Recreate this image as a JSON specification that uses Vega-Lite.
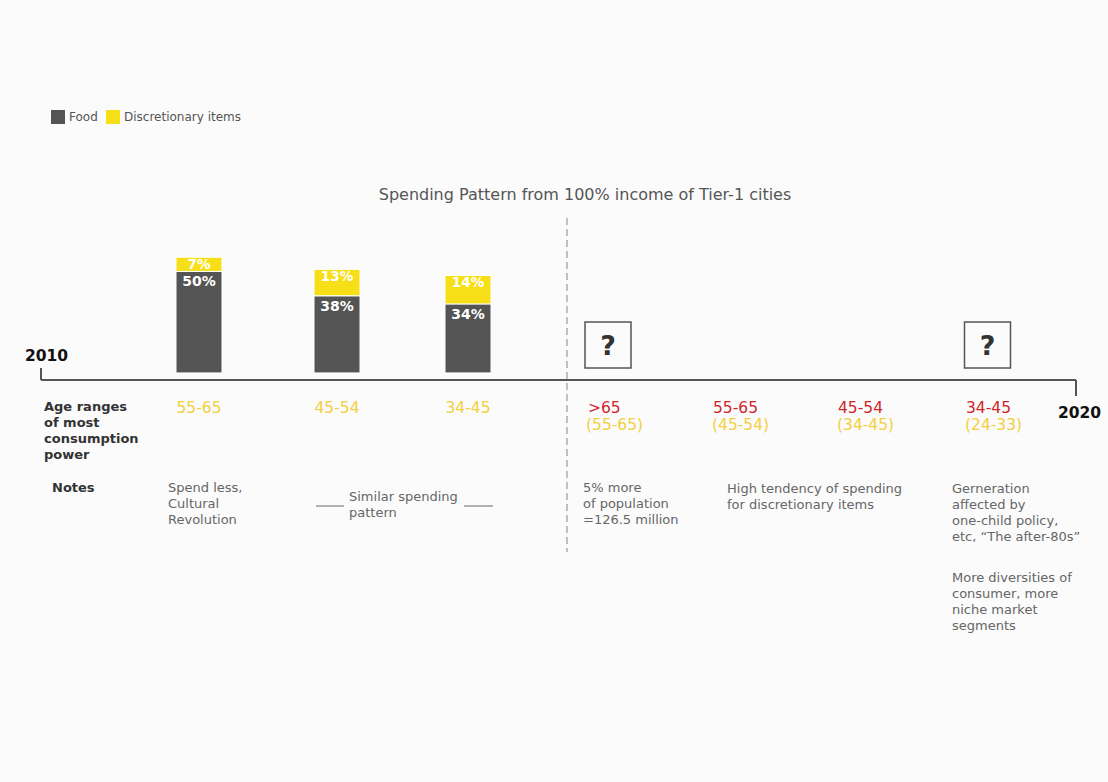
{
  "$schema": "https://vega.github.io/schema/vega-lite/v6.json",
  "width": 1108,
  "height": 782,
  "autosize": "none",
  "padding": 0,
  "background": "#fbfbfb",
  "config": {
    "view": {"stroke": null},
    "font": "DejaVu Sans",
    "text": {"font": "DejaVu Sans"},
    "legend": {
      "orient": "none",
      "legendX": 51,
      "legendY": 110,
      "direction": "horizontal",
      "symbolType": "square",
      "symbolSize": 196,
      "symbolStrokeWidth": 0,
      "symbolOpacity": 1,
      "labelFont": "DejaVu Sans",
      "labelFontSize": 12,
      "labelColor": "#555555",
      "labelOffset": 4,
      "columnPadding": 8,
      "padding": 0,
      "title": null
    }
  },
  "datasets": {
    "bars": [
      {"group": "55-65", "x": 199, "category": "Food", "pct": 0.50},
      {"group": "55-65", "x": 199, "category": "Discretionary items", "pct": 0.07},
      {"group": "45-54", "x": 337, "category": "Food", "pct": 0.38},
      {"group": "45-54", "x": 337, "category": "Discretionary items", "pct": 0.13},
      {"group": "34-45", "x": 468, "category": "Food", "pct": 0.34},
      {"group": "34-45", "x": 468, "category": "Discretionary items", "pct": 0.14}
    ],
    "lines": [
      {"kind": "axis", "x": 41, "y": 380, "x2": 1076, "y2": 380},
      {"kind": "axis", "x": 41, "y": 368, "x2": 41, "y2": 380},
      {"kind": "axis", "x": 1076, "y": 380, "x2": 1076, "y2": 396},
      {"kind": "dash", "x": 567, "y": 218, "x2": 567, "y2": 552},
      {"kind": "under", "x": 316, "y": 506, "x2": 344, "y2": 506},
      {"kind": "under", "x": 464, "y": 506, "x2": 493, "y2": 506}
    ],
    "boxes": [
      {"x": 608, "y": 345, "text": "?"},
      {"x": 987.5, "y": 345, "text": "?"}
    ],
    "texts": [
      {"kind": "title", "x": 585, "y": 195, "text": "Spending Pattern from 100% income of Tier-1 cities"},
      {"kind": "year", "x": 25, "y": 356, "text": "2010"},
      {"kind": "year", "x": 1058, "y": 413, "text": "2020"},
      {"kind": "rowhead", "x": 44, "y": 401, "text": "Age ranges\nof most\nconsumption\npower"},
      {"kind": "rowhead", "x": 52, "y": 482, "text": "Notes"},
      {"kind": "ageold", "x": 199, "y": 408, "text": "55-65"},
      {"kind": "ageold", "x": 337, "y": 408, "text": "45-54"},
      {"kind": "ageold", "x": 468, "y": 408, "text": "34-45"},
      {"kind": "agenew", "x": 588, "y": 408, "text": ">65"},
      {"kind": "agenew", "x": 713, "y": 408, "text": "55-65"},
      {"kind": "agenew", "x": 838, "y": 408, "text": "45-54"},
      {"kind": "agenew", "x": 966, "y": 408, "text": "34-45"},
      {"kind": "ageprev", "x": 586, "y": 425, "text": "(55-65)"},
      {"kind": "ageprev", "x": 712, "y": 425, "text": "(45-54)"},
      {"kind": "ageprev", "x": 837, "y": 425, "text": "(34-45)"},
      {"kind": "ageprev", "x": 965, "y": 425, "text": "(24-33)"},
      {"kind": "note", "x": 168, "y": 482, "text": "Spend less,\nCultural\nRevolution"},
      {"kind": "note", "x": 349, "y": 491, "text": "Similar spending\npattern"},
      {"kind": "note", "x": 583, "y": 482, "text": "5% more\nof population\n=126.5 million"},
      {"kind": "note", "x": 727, "y": 483, "text": "High tendency of spending\nfor discretionary items"},
      {"kind": "note", "x": 952, "y": 483, "text": "Gerneration\naffected by\none-child policy,\netc, “The after-80s”"},
      {"kind": "note", "x": 952, "y": 572, "text": "More diversities of\nconsumer, more\nniche market\nsegments"}
    ]
  },
  "resolve": {"scale": {"y": "independent"}},
  "layer": [
    {
      "data": {"name": "bars"},
      "transform": [
        {"stack": "pct", "groupby": ["group"], "as": ["y0", "y1"], "sort": [{"field": "category", "order": "descending"}]}
      ],
      "encoding": {
        "x": {"field": "x", "type": "quantitative", "scale": {"domain": [0, 1108], "nice": false, "zero": false, "padding": 0}, "axis": null},
        "y": {"field": "y0", "type": "quantitative", "scale": {"domain": [-2.015, 1.837], "nice": false, "zero": false}, "axis": null}
      },
      "layer": [
        {
          "mark": {"type": "bar", "width": 46, "stroke": "#ffffff", "strokeWidth": 1},
          "encoding": {
            "y2": {"field": "y1"},
            "color": {
              "field": "category",
              "type": "nominal",
              "scale": {"domain": ["Food", "Discretionary items"], "range": ["#545454", "#f7df17"]},
              "legend": {"title": null}
            }
          }
        },
        {
          "transform": [{"filter": "datum.category === 'Food'"}],
          "mark": {"type": "text", "color": "#ffffff", "fontWeight": "bold", "fontSize": 14, "baseline": "top", "align": "center", "dy": 4},
          "encoding": {
            "y": {"field": "y1", "type": "quantitative"},
            "text": {"field": "pct", "type": "quantitative", "format": ".0%"}
          }
        },
        {
          "transform": [{"filter": "datum.category === 'Discretionary items'"}],
          "mark": {"type": "text", "color": "#ffffff", "fontWeight": "bold", "fontSize": 13.5, "baseline": "middle", "align": "center", "dy": 8},
          "encoding": {
            "y": {"field": "y1", "type": "quantitative"},
            "text": {"field": "pct", "type": "quantitative", "format": ".0%"}
          }
        }
      ]
    },
    {
      "encoding": {
        "x": {"field": "x", "type": "quantitative", "scale": {"domain": [0, 1108], "nice": false, "zero": false, "padding": 0}, "axis": null},
        "y": {"field": "y", "type": "quantitative", "scale": {"domain": [0, 782], "reverse": true, "nice": false, "zero": false}, "axis": null}
      },
      "layer": [
        {
          "data": {"name": "lines"},
          "transform": [{"filter": "datum.kind === 'axis'"}],
          "mark": {"type": "rule", "color": "#555555", "strokeWidth": 2},
          "encoding": {"x2": {"field": "x2"}, "y2": {"field": "y2"}}
        },
        {
          "data": {"name": "lines"},
          "transform": [{"filter": "datum.kind === 'dash'"}],
          "mark": {"type": "rule", "color": "#999999", "strokeWidth": 1.2, "strokeDash": [7, 4]},
          "encoding": {"x2": {"field": "x2"}, "y2": {"field": "y2"}}
        },
        {
          "data": {"name": "lines"},
          "transform": [{"filter": "datum.kind === 'under'"}],
          "mark": {"type": "rule", "color": "#666666", "strokeWidth": 1},
          "encoding": {"x2": {"field": "x2"}, "y2": {"field": "y2"}}
        },
        {
          "data": {"name": "boxes"},
          "mark": {"type": "point", "shape": "square", "size": 2116, "filled": false, "stroke": "#555555", "strokeWidth": 1.5, "opacity": 1}
        },
        {
          "data": {"name": "boxes"},
          "mark": {"type": "text", "fontSize": 27, "fontWeight": "bold", "color": "#333333", "align": "center", "baseline": "middle", "dy": 2},
          "encoding": {"text": {"field": "text"}}
        },
        {
          "data": {"name": "texts"},
          "transform": [{"filter": "datum.kind === 'title'"}],
          "mark": {"type": "text", "fontSize": 16, "color": "#555555", "align": "center", "baseline": "middle"},
          "encoding": {"text": {"field": "text"}}
        },
        {
          "data": {"name": "texts"},
          "transform": [{"filter": "datum.kind === 'year'"}],
          "mark": {"type": "text", "fontSize": 15.5, "fontWeight": "bold", "color": "#111111", "align": "left", "baseline": "middle"},
          "encoding": {"text": {"field": "text"}}
        },
        {
          "data": {"name": "texts"},
          "transform": [{"filter": "datum.kind === 'rowhead'"}],
          "mark": {"type": "text", "fontSize": 13, "fontWeight": "bold", "color": "#333333", "align": "left", "baseline": "top", "lineBreak": "\n", "lineHeight": 16},
          "encoding": {"text": {"field": "text"}}
        },
        {
          "data": {"name": "texts"},
          "transform": [{"filter": "datum.kind === 'ageold'"}],
          "mark": {"type": "text", "fontSize": 15.5, "color": "#f2d03e", "align": "center", "baseline": "middle"},
          "encoding": {"text": {"field": "text"}}
        },
        {
          "data": {"name": "texts"},
          "transform": [{"filter": "datum.kind === 'agenew'"}],
          "mark": {"type": "text", "fontSize": 15.5, "color": "#d0262b", "align": "left", "baseline": "middle"},
          "encoding": {"text": {"field": "text"}}
        },
        {
          "data": {"name": "texts"},
          "transform": [{"filter": "datum.kind === 'ageprev'"}],
          "mark": {"type": "text", "fontSize": 15.5, "color": "#f2d03e", "align": "left", "baseline": "middle"},
          "encoding": {"text": {"field": "text"}}
        },
        {
          "data": {"name": "texts"},
          "transform": [{"filter": "datum.kind === 'note'"}],
          "mark": {"type": "text", "fontSize": 13, "color": "#666666", "align": "left", "baseline": "top", "lineBreak": "\n", "lineHeight": 16},
          "encoding": {"text": {"field": "text"}}
        }
      ]
    }
  ]
}
